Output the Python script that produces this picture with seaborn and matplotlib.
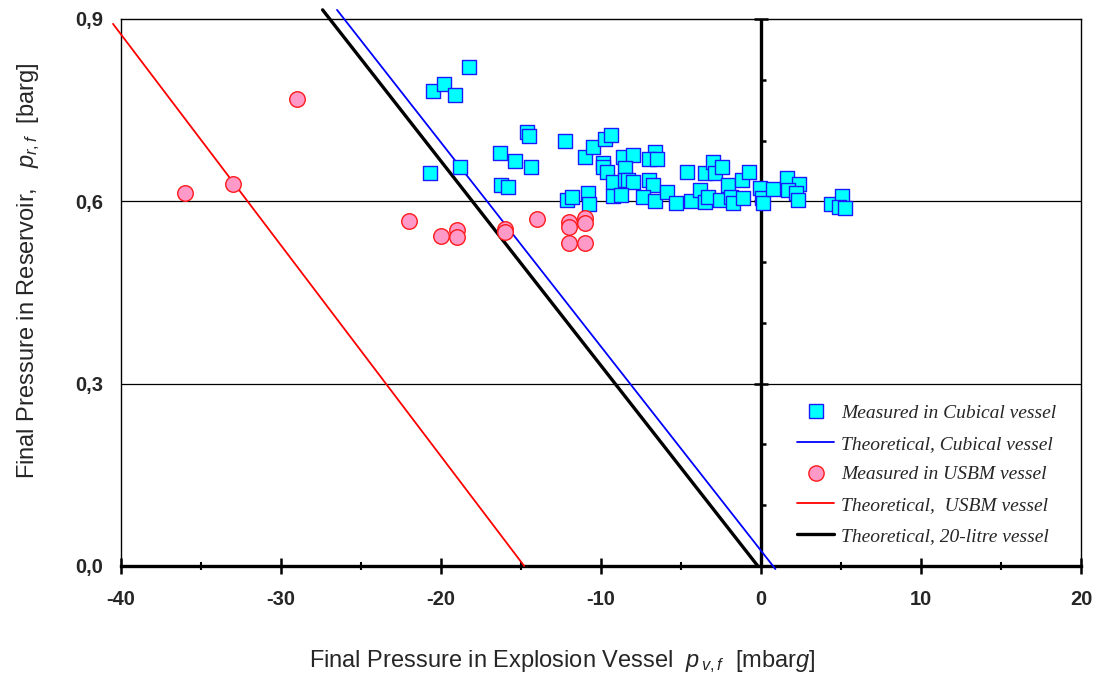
import matplotlib
matplotlib.use("Agg")
import matplotlib.pyplot as plt
import seaborn as sns
import pandas as pd
from matplotlib.ticker import MultipleLocator, FixedLocator, FuncFormatter, NullFormatter
from matplotlib.lines import Line2D

# ---------------- data ----------------
cube_x = [-20.5, -19.8, -19.1, -18.25, -20.7, -18.8, -16.3, -16.25, -15.8, -15.4,
          -14.4, -14.6, -14.5, -12.25, -12.1, -11.8, -10.8, -10.75, -11.0, -10.5,
          -9.75, -9.4, -9.9, -9.9, -8.6, -8.0, -6.6, -7.0, -6.5, -9.6,
          -9.25, -8.5, -8.5, -8.3, -8.0, -7.0, -6.75, -9.25, -8.75, -7.4,
          -6.6, -5.9, -5.3, -4.6, -4.4, -3.8, -3.5, -3.0, -2.9, -2.45,
          -3.5, -3.3, -2.55, -2.05, -1.9, -1.75, -1.2, -1.1, -0.75, -0.06,
          0.06, 0.15, 0.75, 1.6, 2.4, 1.7, 2.2, 2.3, 4.4, 5.05, 4.9, 5.25]
cube_y = [0.781, 0.793, 0.775, 0.821, 0.647, 0.656, 0.680, 0.627, 0.624, 0.666,
          0.656, 0.714, 0.707, 0.699, 0.602, 0.607, 0.614, 0.596, 0.673, 0.689,
          0.703, 0.709, 0.663, 0.656, 0.673, 0.676, 0.681, 0.670, 0.670, 0.648,
          0.632, 0.655, 0.635, 0.635, 0.632, 0.635, 0.627, 0.609, 0.610, 0.607,
          0.601, 0.615, 0.597, 0.648, 0.601, 0.619, 0.647, 0.665, 0.647, 0.656,
          0.599, 0.607, 0.602, 0.627, 0.607, 0.597, 0.635, 0.605, 0.648, 0.622,
          0.605, 0.597, 0.620, 0.638, 0.629, 0.619, 0.614, 0.602, 0.596, 0.609, 0.591, 0.589]

usbm_x = [-36, -33, -29, -22, -20, -19, -19, -16, -16, -14, -12, -12, -12, -11, -11, -11]
usbm_y = [0.614, 0.628, 0.768, 0.568, 0.543, 0.553, 0.541, 0.554, 0.550, 0.571,
          0.566, 0.557, 0.532, 0.573, 0.564, 0.532]

theo_cube_x = [-26.5, 0.9]
theo_cube_y = [0.915, -0.005]
theo_usbm_x = [-40.5, -14.8]
theo_usbm_y = [0.892, 0.0]
theo_20l_x = [-27.4, -0.2]
theo_20l_y = [0.915, 0.0]

x_ticks = [-40, -30, -20, -10, 0, 10, 20]
y_ticks = [0.0, 0.3, 0.6, 0.9]

labels = ["Measured in Cubical vessel", "Theoretical, Cubical vessel",
          "Measured in USBM vessel", "Theoretical,  USBM vessel",
          "Theoretical, 20-litre vessel"]

# ---------------- style ----------------
sns.set_style("white")
plt.rcParams["font.family"] = ["Liberation Sans", "DejaVu Sans"]
plt.rcParams["axes.unicode_minus"] = False
plt.rcParams["mathtext.fontset"] = "custom"
plt.rcParams["mathtext.rm"] = "Liberation Sans"
plt.rcParams["mathtext.it"] = "Liberation Sans:italic"

fig = plt.figure(figsize=(10.98, 6.77), dpi=100)
ax = fig.add_axes([121 / 1098, 1 - 566 / 677, 960 / 1098, 547 / 677])

# grid lines & zero line
for yv in [0.3, 0.6]:
    ax.axhline(yv, color="black", lw=0.9, zorder=1)
ax.axvline(0, color="black", lw=2.4, zorder=2)

# theoretical lines
sns.lineplot(x=theo_cube_x, y=theo_cube_y, ax=ax, color="#0000ff", lw=1.3,
             sort=False, estimator=None, zorder=3, clip_on=False)
sns.lineplot(x=theo_usbm_x, y=theo_usbm_y, ax=ax, color="#ff0000", lw=1.3,
             sort=False, estimator=None, zorder=3, clip_on=False)
sns.lineplot(x=theo_20l_x, y=theo_20l_y, ax=ax, color="black", lw=2.4,
             sort=False, estimator=None, zorder=3, clip_on=False)

# measured points
sns.scatterplot(x=cube_x, y=cube_y, ax=ax, marker="s", s=92, color="#00ffff",
                edgecolor="#1a1aff", linewidth=1.0, zorder=5)
sns.scatterplot(x=usbm_x, y=usbm_y, ax=ax, marker="o", s=125, color="#ff99c8",
                edgecolor="#ff1a1a", linewidth=1.0, zorder=5)

ax.set_xlim(-40, 20)
ax.set_ylim(0, 0.9)

# spines
for s in ["top", "right", "left"]:
    ax.spines[s].set_visible(True)
    ax.spines[s].set_color("black")
    ax.spines[s].set_linewidth(1.0)
ax.spines["bottom"].set_color("black")
ax.spines["bottom"].set_linewidth(2.4)

# ticks
ax.xaxis.set_major_locator(FixedLocator(x_ticks))
ax.xaxis.set_minor_locator(MultipleLocator(5))
ax.tick_params(axis="x", which="major", direction="inout", length=11, width=1.8,
               pad=12, labelsize=14.5, bottom=True, color="black")
ax.tick_params(axis="x", which="minor", direction="inout", length=6, width=1.5,
               bottom=True, color="black")
ax.yaxis.set_major_locator(FixedLocator(y_ticks))
ax.tick_params(axis="y", which="major", length=0, pad=13, labelsize=14.5, left=True)
ax.yaxis.set_major_formatter(FuncFormatter(lambda v, p: f"{v:.1f}".replace(".", ",")))
for lab in ax.get_xticklabels() + ax.get_yticklabels():
    lab.set_fontweight("bold")

# secondary axis on the zero line
sec = ax.secondary_yaxis(40 / 60)
sec.spines["right"].set_visible(False)
sec.spines["left"].set_visible(False)
sec.yaxis.set_major_locator(FixedLocator(y_ticks))
sec.yaxis.set_minor_locator(MultipleLocator(0.1))
sec.yaxis.set_major_formatter(NullFormatter())
sec.tick_params(axis="y", which="major", direction="inout", length=10, width=1.8, color="black")
sec.tick_params(axis="y", which="minor", direction="out", length=3.5, width=1.8, color="black")

# axis labels
ax.set_xlabel(r"Final Pressure in Explosion Vessel  $p_{\,v,f}$  [mbar$g$]", fontsize=17)
ax.xaxis.set_label_coords(0.46, -0.15)
ax.set_ylabel(r"Final Pressure in Reservoir,   $p_{r,f}$  [barg]", fontsize=17)
ax.yaxis.set_label_coords(-0.082, 0.54)

# legend
handles = [
    Line2D([], [], ls="none", marker="s", ms=9.5, mfc="#00ffff", mec="#1a1aff", mew=1.0),
    Line2D([], [], color="#0000ff", lw=1.3),
    Line2D([], [], ls="none", marker="o", ms=11, mfc="#ff99c8", mec="#ff1a1a", mew=1.0),
    Line2D([], [], color="#ff0000", lw=1.3),
    Line2D([], [], color="black", lw=2.4),
]
leg = ax.legend(handles, labels, loc="lower right", bbox_to_anchor=(0.982, 0.024),
                borderaxespad=0, frameon=False,
                prop={"family": "Liberation Serif", "style": "italic", "size": 14},
                handlelength=1.9, handletextpad=0.35, labelspacing=0.68)

fig.savefig("out.png", dpi=100)
